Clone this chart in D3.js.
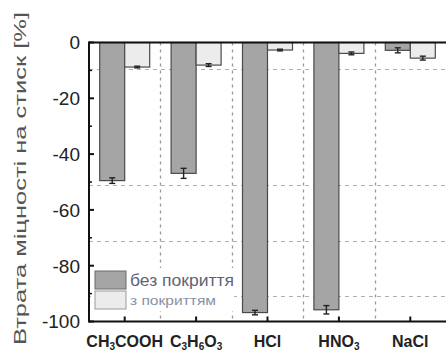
<!DOCTYPE html>
<html>
<head>
<meta charset="utf-8">
<script src="https://cdn.jsdelivr.net/npm/d3@7"></script>
<style>
  body { margin: 0; background: #fff; }
  svg { display: block; font-family: "Liberation Sans", Arial, sans-serif; }
</style>
</head>
<body>
<svg id="chart" width="446" height="354"></svg>
<script>
// data
const categories = ["CH3COOH", "C3H6O3", "HCl", "HNO3", "NaCl"];
const series = ["без покриття", "з покриттям"];
const uncoated = [-49.5, -46.9, -96.8, -95.8, -2.8];
const uncoated_err = [1.0, 1.8, 0.8, 1.5, 0.9];
const coated = [-8.8, -8.1, -2.7, -3.9, -5.6];
const coated_err = [0.3, 0.5, 0.3, 0.5, 0.7];
const y_ticks = [0, -20, -40, -60, -80, -100];
const y_minor = [-10, -30, -50, -70, -90];
const grid_y = [-9.5, -51, -71, -91];
const y_label = "Втрата міцності на стиск [%]";

const svg = d3.select("#chart");
const width = 446, height = 354;
const margin = { left: 89, right: 0, top: 42.5, bottom: 32.5 };

const x = d3.scaleBand()
  .domain(categories)
  .range([margin.left, width - margin.right])
  .padding(0);

const xs = d3.scaleBand()
  .domain(series)
  .range([x.bandwidth() / 2 - 25, x.bandwidth() / 2 + 25]);

const y = d3.scaleLinear()
  .domain([-100, 0])
  .range([height - margin.bottom, margin.top]);

const fills = ["#a5a5a5", "#ececec"];

// grid
const grid = svg.append("g");
grid.selectAll("line.h")
  .data(grid_y)
  .join("line")
  .attr("class", "h")
  .attr("x1", margin.left).attr("x2", width)
  .attr("y1", d => Math.round(y(d)) + 0.5).attr("y2", d => Math.round(y(d)) + 0.5)
  .attr("stroke", "#b0b0b0")
  .attr("stroke-dasharray", "4,4");

const band_edges = categories.slice(1).map(c => x(c));
grid.selectAll("line.v")
  .data(band_edges)
  .join("line")
  .attr("class", "v")
  .attr("x1", d => Math.round(d) + 0.5).attr("x2", d => Math.round(d) + 0.5)
  .attr("y1", margin.top).attr("y2", y(-100))
  .attr("stroke", "#999")
  .attr("stroke-width", 1.3)
  .attr("stroke-dasharray", "3,4");

// bars
const rows = categories.map((c, i) => ({
  cat: c,
  vals: [
    { s: series[0], v: uncoated[i], e: uncoated_err[i], k: 0 },
    { s: series[1], v: coated[i], e: coated_err[i], k: 1 }
  ]
}));

const groups = svg.append("g")
  .selectAll("g")
  .data(rows)
  .join("g")
  .attr("transform", d => `translate(${ x(d.cat) },0)`);

groups.selectAll("rect")
  .data(d => d.vals)
  .join("rect")
  .attr("x", d => xs(d.s))
  .attr("width", xs.bandwidth())
  .attr("y", y(0))
  .attr("height", d => y(d.v) - y(0))
  .attr("fill", d => fills[d.k])
  .attr("stroke", "#4a4a4a")
  .attr("stroke-width", 1.2);

// error bars
const err = groups.selectAll("g.err")
  .data(d => d.vals)
  .join("g")
  .attr("class", "err")
  .attr("stroke", "#222")
  .attr("stroke-width", 1.4);
err.append("line")
  .attr("x1", d => xs(d.s) + xs.bandwidth() / 2)
  .attr("x2", d => xs(d.s) + xs.bandwidth() / 2)
  .attr("y1", d => y(d.v + d.e)).attr("y2", d => y(d.v - d.e));
err.append("line")
  .attr("x1", d => xs(d.s) + xs.bandwidth() / 2 - 3)
  .attr("x2", d => xs(d.s) + xs.bandwidth() / 2 + 3)
  .attr("y1", d => y(d.v + d.e)).attr("y2", d => y(d.v + d.e));
err.append("line")
  .attr("x1", d => xs(d.s) + xs.bandwidth() / 2 - 3)
  .attr("x2", d => xs(d.s) + xs.bandwidth() / 2 + 3)
  .attr("y1", d => y(d.v - d.e)).attr("y2", d => y(d.v - d.e));

// legend
const legend = svg.append("g");
legend.append("rect")
  .attr("x", 91).attr("y", 268).attr("width", 143).attr("height", 43)
  .attr("fill", "#fff");
const leg_text = [
  { size: 16, len: 104, color: "#5f6475" },
  { size: 13.5, len: 86, color: "#8a90a4" }
];
series.forEach((s, i) => {
  legend.append("rect")
    .attr("x", 95).attr("y", 271 + i * 20)
    .attr("width", 31).attr("height", 18)
    .attr("fill", fills[i])
    .attr("stroke", i ? "#9a9a9a" : "#6a6a6a")
    .attr("stroke-width", 1);
  legend.append("text")
    .attr("x", 130).attr("y", 280 + i * 20)
    .attr("dy", "0.35em")
    .attr("font-size", leg_text[i].size)
    .attr("fill", leg_text[i].color)
    .attr("textLength", leg_text[i].len)
    .attr("lengthAdjust", "spacingAndGlyphs")
    .text(s);
});

// axes frame
const axis_color = "#111";
svg.append("line")
  .attr("x1", margin.left).attr("x2", width)
  .attr("y1", y(0)).attr("y2", y(0))
  .attr("stroke", axis_color).attr("stroke-width", 2);
svg.append("line")
  .attr("x1", margin.left).attr("x2", width)
  .attr("y1", y(-100)).attr("y2", y(-100))
  .attr("stroke", axis_color).attr("stroke-width", 2);
svg.append("line")
  .attr("x1", margin.left).attr("x2", margin.left)
  .attr("y1", y(0) - 1).attr("y2", y(-100) + 1)
  .attr("stroke", axis_color).attr("stroke-width", 2);

// y ticks (inward)
svg.append("g").selectAll("line")
  .data(y_ticks)
  .join("line")
  .attr("x1", margin.left).attr("x2", margin.left + 5)
  .attr("y1", d => y(d)).attr("y2", d => y(d))
  .attr("stroke", axis_color).attr("stroke-width", 2);
svg.append("g").selectAll("line")
  .data(y_minor)
  .join("line")
  .attr("x1", margin.left).attr("x2", margin.left + 3)
  .attr("y1", d => y(d)).attr("y2", d => y(d))
  .attr("stroke", axis_color).attr("stroke-width", 1.5);

svg.append("g").selectAll("text")
  .data(y_ticks)
  .join("text")
  .attr("x", 80)
  .attr("y", d => y(d))
  .attr("dy", "0.36em")
  .attr("text-anchor", "end")
  .attr("font-size", 19)
  .attr("fill", "#222")
  .text(d => d);

// x ticks (inward)
svg.append("g").selectAll("line")
  .data(categories)
  .join("line")
  .attr("x1", d => x(d) + x.bandwidth() / 2)
  .attr("x2", d => x(d) + x.bandwidth() / 2)
  .attr("y1", y(-100)).attr("y2", y(-100) - 5)
  .attr("stroke", axis_color).attr("stroke-width", 2);

// x labels with subscripts
const xl = svg.append("g").selectAll("text")
  .data(categories)
  .join("text")
  .attr("x", d => x(d) + x.bandwidth() / 2)
  .attr("y", 347)
  .attr("text-anchor", "middle")
  .attr("font-size", 16)
  .attr("font-weight", "bold")
  .attr("fill", "#222");
xl.each(function (d) {
  const t = d3.select(this);
  const parts = d.match(/[A-Za-z]+|\d+/g);
  let sub = false;
  parts.forEach(p => {
    const isNum = /\d/.test(p);
    const ts = t.append("tspan").text(p);
    if (isNum) {
      ts.attr("font-size", 10).attr("dy", sub ? 0 : 3);
      sub = true;
    } else if (sub) {
      ts.attr("dy", -3);
      sub = false;
    }
  });
});

// y label
svg.append("text")
  .attr("transform", "translate(20,178.5) rotate(-90)")
  .attr("text-anchor", "middle")
  .attr("dy", "0.35em")
  .attr("font-size", 17)
  .attr("fill", "#555")
  .attr("textLength", 333)
  .attr("lengthAdjust", "spacingAndGlyphs")
  .text(y_label);
</script>
</body>
</html>
